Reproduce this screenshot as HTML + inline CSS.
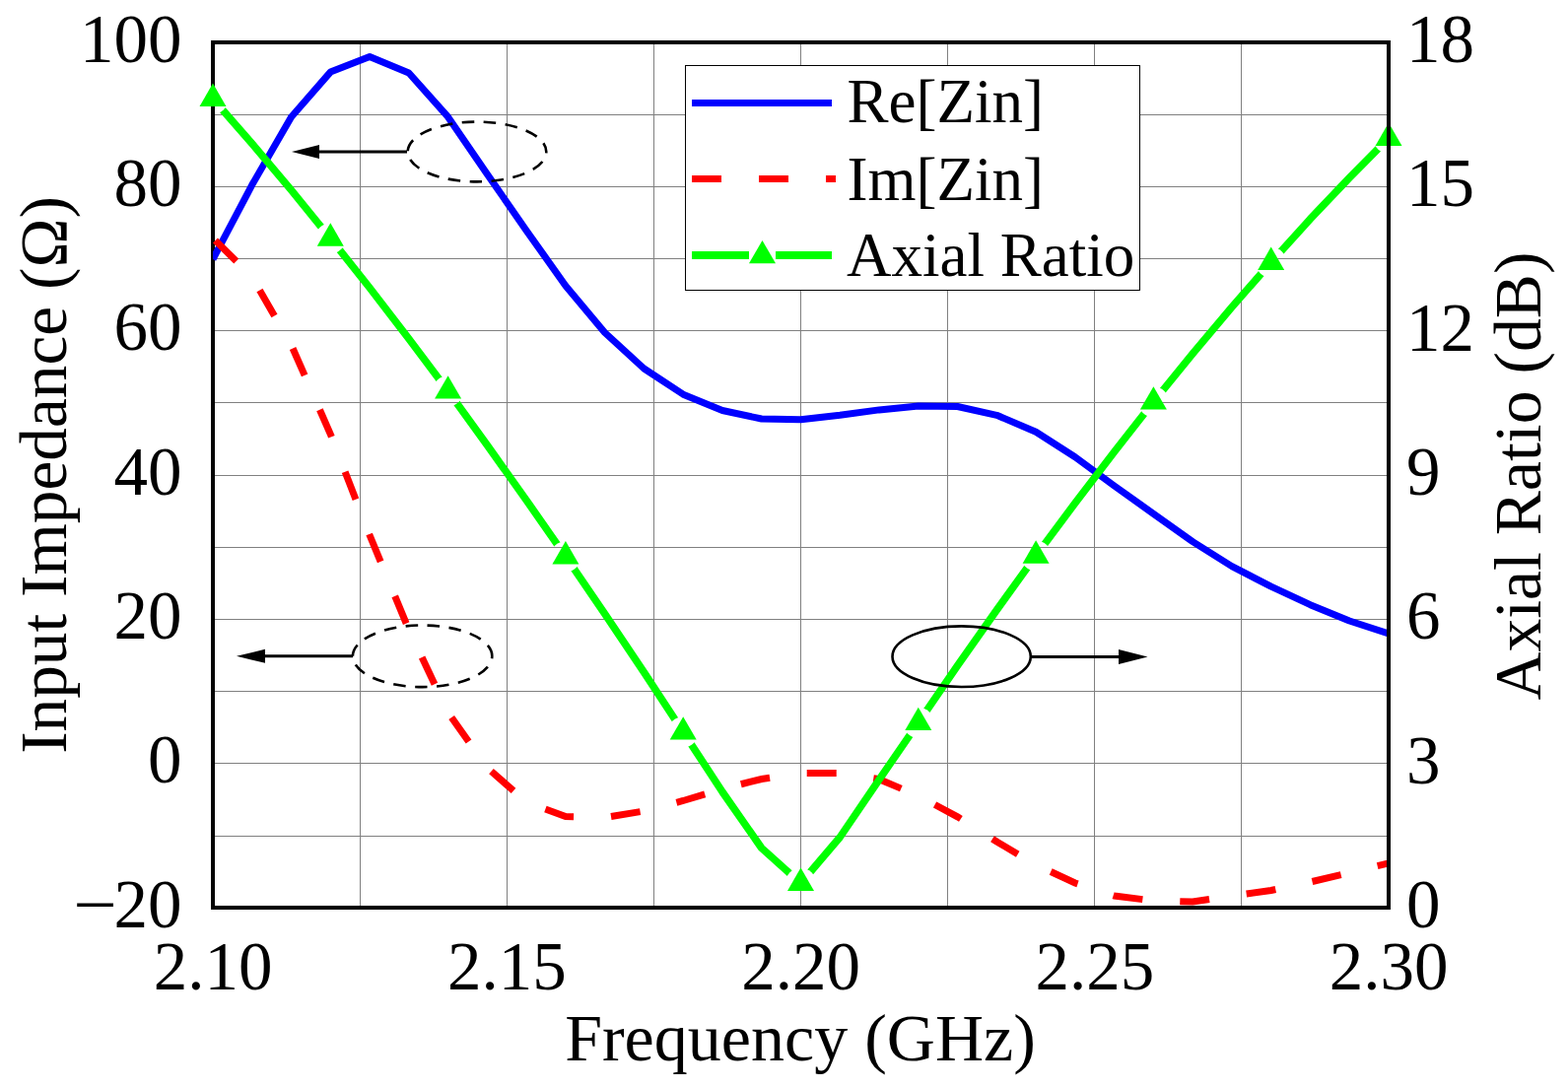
<!DOCTYPE html>
<html><head><meta charset="utf-8"><title>Input Impedance and Axial Ratio</title>
<style>html,body{margin:0;padding:0;background:#fff;}svg{display:block;}text{font-family:'Liberation Serif','Times New Roman',serif;fill:#000;}</style></head><body>
<svg width="1591" height="1104" viewBox="0 0 1591 1104">
<defs><clipPath id="plot"><rect x="216" y="43" width="1193" height="878"/></clipPath>
<mask id="gap" maskUnits="userSpaceOnUse" x="0" y="0" width="1591" height="1104"><rect x="0" y="0" width="1591" height="1104" fill="#fff"/>
<circle cx="216.00" cy="100.20" r="15.5" fill="#000"/>
<circle cx="335.30" cy="241.90" r="15.5" fill="#000"/>
<circle cx="454.60" cy="396.80" r="15.5" fill="#000"/>
<circle cx="573.90" cy="564.70" r="15.5" fill="#000"/>
<circle cx="693.20" cy="742.80" r="15.5" fill="#000"/>
<circle cx="812.50" cy="896.20" r="15.5" fill="#000"/>
<circle cx="931.80" cy="733.30" r="15.5" fill="#000"/>
<circle cx="1051.10" cy="563.90" r="15.5" fill="#000"/>
<circle cx="1170.40" cy="407.80" r="15.5" fill="#000"/>
<circle cx="1289.70" cy="266.20" r="15.5" fill="#000"/>
<circle cx="1409.00" cy="140.20" r="15.5" fill="#000"/>
</mask></defs>
<rect x="0" y="0" width="1591" height="1104" fill="#fff"/>
<g stroke="#808080" stroke-width="1" fill="none">
<line x1="365.5" y1="43" x2="365.5" y2="921"/>
<line x1="514.5" y1="43" x2="514.5" y2="921"/>
<line x1="663.5" y1="43" x2="663.5" y2="921"/>
<line x1="812.5" y1="43" x2="812.5" y2="921"/>
<line x1="961.5" y1="43" x2="961.5" y2="921"/>
<line x1="1110.5" y1="43" x2="1110.5" y2="921"/>
<line x1="1259.5" y1="43" x2="1259.5" y2="921"/>
<line x1="216" y1="116.5" x2="1409" y2="116.5"/>
<line x1="216" y1="189.5" x2="1409" y2="189.5"/>
<line x1="216" y1="262.5" x2="1409" y2="262.5"/>
<line x1="216" y1="335.5" x2="1409" y2="335.5"/>
<line x1="216" y1="408.5" x2="1409" y2="408.5"/>
<line x1="216" y1="482.5" x2="1409" y2="482.5"/>
<line x1="216" y1="555.5" x2="1409" y2="555.5"/>
<line x1="216" y1="628.5" x2="1409" y2="628.5"/>
<line x1="216" y1="701.5" x2="1409" y2="701.5"/>
<line x1="216" y1="774.5" x2="1409" y2="774.5"/>
<line x1="216" y1="848.5" x2="1409" y2="848.5"/>
</g>
<path d="M216,921 L216,43 L1409,43 M216,921 L1409,921" stroke="#000" stroke-width="4" fill="none" stroke-linecap="square"/>
<g clip-path="url(#plot)" fill="none" stroke-width="7" stroke-linejoin="round">
<polyline points="216.00,263.00 255.77,187.60 295.53,118.80 335.30,73.10 375.07,57.50 414.83,74.00 454.60,118.70 494.37,176.70 534.13,233.90 573.90,290.00 613.67,337.50 653.43,374.00 693.20,400.20 732.97,416.50 772.73,425.00 812.50,425.70 852.27,421.30 892.03,415.90 931.80,412.00 971.57,412.50 1011.33,421.30 1051.10,438.30 1090.87,463.70 1130.63,493.00 1170.40,521.30 1210.17,549.60 1249.93,574.60 1289.70,595.20 1329.47,613.70 1369.23,630.00 1409.00,643.00" stroke="#0000ff"/>
<polyline points="216.00,241.50 255.77,281.00 295.53,350.00 335.30,440.50 375.07,543.00 414.83,639.00 454.60,723.00 494.37,779.00 534.13,814.00 573.90,828.50 613.67,829.50 653.43,823.00 693.20,812.50 732.97,800.50 772.73,790.50 812.50,784.50 852.27,784.50 892.03,790.70 931.80,807.50 971.57,828.80 1011.33,854.00 1051.10,877.50 1090.87,896.00 1130.63,909.00 1170.40,914.00 1210.17,915.00 1249.93,909.00 1289.70,903.50 1329.47,895.00 1369.23,885.50 1409.00,876.00" stroke="#ff0000" stroke-dasharray="30 38" stroke-dashoffset="-3.5" stroke-linejoin="miter"/>
<polyline points="216.00,100.20 255.77,145.70 295.53,192.90 335.30,241.90 375.07,292.00 414.83,343.80 454.60,396.80 494.37,451.70 534.13,507.60 573.90,564.70 613.67,622.90 653.43,682.20 693.20,742.80 732.97,803.50 772.73,860.50 812.50,896.20 852.27,849.50 892.03,791.20 931.80,733.30 971.57,675.30 1011.33,619.00 1051.10,563.90 1090.87,510.50 1130.63,458.50 1170.40,407.80 1210.17,358.90 1249.93,311.60 1289.70,266.20 1329.47,222.20 1369.23,180.30 1409.00,140.20" stroke="#00ff00" stroke-width="7.5" mask="url(#gap)"/>
</g>
<polygon points="216.00,84.61 229.50,107.99 202.50,107.99" fill="#00ff00"/>
<polygon points="335.30,226.31 348.80,249.69 321.80,249.69" fill="#00ff00"/>
<polygon points="454.60,381.21 468.10,404.59 441.10,404.59" fill="#00ff00"/>
<polygon points="573.90,549.11 587.40,572.49 560.40,572.49" fill="#00ff00"/>
<polygon points="693.20,727.21 706.70,750.59 679.70,750.59" fill="#00ff00"/>
<polygon points="812.50,880.61 826.00,903.99 799.00,903.99" fill="#00ff00"/>
<polygon points="931.80,717.71 945.30,741.09 918.30,741.09" fill="#00ff00"/>
<polygon points="1051.10,548.31 1064.60,571.69 1037.60,571.69" fill="#00ff00"/>
<polygon points="1170.40,392.21 1183.90,415.59 1156.90,415.59" fill="#00ff00"/>
<polygon points="1289.70,250.61 1303.20,273.99 1276.20,273.99" fill="#00ff00"/>
<polygon points="1409.00,124.61 1422.50,147.99 1395.50,147.99" fill="#00ff00"/>
<line x1="1409" y1="41" x2="1409" y2="923" stroke="#000" stroke-width="4"/>
<rect x="695.5" y="66.5" width="461" height="228" fill="#fff" stroke="#000" stroke-width="1"/>
<line x1="702" y1="104.5" x2="844" y2="104.5" stroke="#0000ff" stroke-width="7"/>
<line x1="702" y1="181.5" x2="848" y2="181.5" stroke="#ff0000" stroke-width="7" stroke-dasharray="30 38"/>
<line x1="702" y1="259" x2="760" y2="259" stroke="#00ff00" stroke-width="8"/>
<line x1="787" y1="259" x2="844" y2="259" stroke="#00ff00" stroke-width="8"/>
<polygon points="773.50,243.91 787.00,267.29 760.00,267.29" fill="#00ff00"/>
<text x="859.5" y="124" font-size="63">Re[Zin]</text>
<text x="859.5" y="202.5" font-size="63">Im[Zin]</text>
<text x="859" y="279.5" font-size="63">Axial Ratio</text>
<ellipse cx="484" cy="154" rx="70.3" ry="30.4" fill="none" stroke="#000" stroke-width="2.6" stroke-dasharray="12.5 9.5" stroke-dashoffset="11"/>
<line x1="413" y1="154" x2="320" y2="154" stroke="#000" stroke-width="3"/>
<polygon points="296,154 324,147 324,161" fill="#000"/>
<ellipse cx="428.6" cy="665.8" rx="70.7" ry="31.3" fill="none" stroke="#000" stroke-width="2.6" stroke-dasharray="12.5 9.5" stroke-dashoffset="10"/>
<line x1="358" y1="665.8" x2="265" y2="665.8" stroke="#000" stroke-width="3"/>
<polygon points="240,665.8 269,658.8 269,672.8" fill="#000"/>
<ellipse cx="975.65" cy="666.2" rx="70.15" ry="30.8" fill="none" stroke="#000" stroke-width="2.6"/>
<line x1="1046" y1="666.5" x2="1140" y2="666.5" stroke="#000" stroke-width="3"/>
<polygon points="1164.5,666.5 1135,659 1135,674" fill="#000"/>
<text x="184.5" y="62.7" font-size="69" text-anchor="end">100</text>
<text x="184.5" y="209.0" font-size="69" text-anchor="end">80</text>
<text x="184.5" y="355.4" font-size="69" text-anchor="end">60</text>
<text x="184.5" y="501.7" font-size="69" text-anchor="end">40</text>
<text x="184.5" y="648.0" font-size="69" text-anchor="end">20</text>
<text x="184.5" y="794.4" font-size="69" text-anchor="end">0</text>
<text x="184.5" y="940.7" font-size="69" text-anchor="end">20</text>
<text transform="translate(74.5,940.7) scale(1.145,1)" font-size="69">−</text>
<text x="1427" y="63.0" font-size="69">18</text>
<text x="1427" y="209.3" font-size="69">15</text>
<text x="1427" y="355.7" font-size="69">12</text>
<text x="1427" y="502.0" font-size="69">9</text>
<text x="1427" y="648.3" font-size="69">6</text>
<text x="1427" y="794.7" font-size="69">3</text>
<text x="1427" y="941.0" font-size="69">0</text>
<text x="216.00" y="1003.5" font-size="69" text-anchor="middle">2.10</text>
<text x="514.25" y="1003.5" font-size="69" text-anchor="middle">2.15</text>
<text x="812.50" y="1003.5" font-size="69" text-anchor="middle">2.20</text>
<text x="1110.75" y="1003.5" font-size="69" text-anchor="middle">2.25</text>
<text x="1409.00" y="1003.5" font-size="69" text-anchor="middle">2.30</text>
<text x="812" y="1076" font-size="68" text-anchor="middle">Frequency (GHz)</text>
<text transform="translate(67,482) rotate(-90)" font-size="67.3" text-anchor="middle">Input Impedance (Ω)</text>
<text transform="translate(1563,483) rotate(-90)" font-size="67.7" text-anchor="middle">Axial Ratio (dB)</text>
</svg></body></html>
